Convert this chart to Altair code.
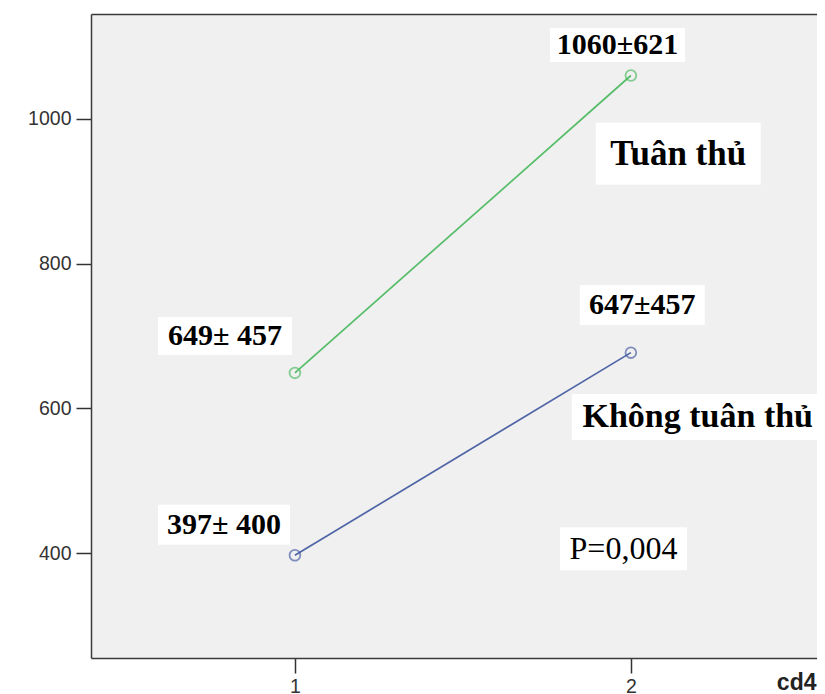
import altair as alt
import pandas as pd

# ---- data ----
groups = ["Tuân thủ", "Tuân thủ", "Không tuân thủ", "Không tuân thủ"]
cd4 = [1, 2, 1, 2]
means = [649, 1060, 397, 677]

ann_text = ["1060±621", "Tuân thủ", "649± 457", "647±457", "Không tuân thủ", "397± 400", "P=0,004"]
ann_x = [1.960, 2.141, 0.792, 2.034, 2.199, 0.789, 1.978]
ann_y = [1102, 952, 700, 743, 588, 439, 406]

y_ticks = [400, 600, 800, 1000]
x_ticks = [1, 2]

# ---- styles (box width, box height, font size, weight) per annotation ----
ann_style = [
    (135, 34, 30, "bold"),
    (165, 62, 35, "bold"),
    (134, 38, 30, "bold"),
    (125, 40, 30, "bold"),
    (252, 46, 34, "bold"),
    (132, 40, 30, "bold"),
    (127, 43, 32, "normal"),
]

df = pd.DataFrame({"group": groups, "cd4": cd4, "mean": means})

xs = alt.Scale(domain=[0.393, 2.554], nice=False, zero=False)
ys = alt.Scale(domain=[255, 1145], nice=False, zero=False)

col = alt.Color("group:N", scale=alt.Scale(domain=["Tuân thủ", "Không tuân thủ"],
                                            range=["#55bd68", "#4f64a6"]), legend=None)

xenc = alt.X("cd4:Q", scale=xs,
             axis=alt.Axis(orient="bottom", values=x_ticks, format="d", title="cd4",
                           titleX=725, titleY=31, titleAlign="right",
                           titleBaseline="alphabetic", titleAngle=0,
                           titleFont="Liberation Sans", titleFontSize=23,
                           titleFontWeight="bold", titleColor="#222",
                           labelPadding=4))
xtop = alt.X("cd4:Q", scale=xs,
             axis=alt.Axis(orient="top", labels=False, ticks=False, title=None, domain=True))
yenc = alt.Y("mean:Q", scale=ys,
             axis=alt.Axis(values=y_ticks, format="d", title=None, labelPadding=5))
xnone = alt.X("cd4:Q", scale=xs, axis=None)

lines = alt.Chart(df).mark_line(strokeWidth=1.7).encode(x=xenc, y=yenc, color=col, detail="group:N")
pts = alt.Chart(df).mark_point(shape="circle", filled=False, size=115, strokeWidth=1.8).encode(
    x=xtop, y=yenc, color=col)

layers = [lines, pts]
for t, ax, ay, (w, h, fs, fw) in zip(ann_text, ann_x, ann_y, ann_style):
    d = pd.DataFrame({"cd4": [ax], "mean": [ay], "label": [t]})
    box = alt.Chart(d).mark_rect(width=w, height=h, color="white").encode(x=xnone, y=yenc)
    txt = alt.Chart(d).mark_text(font="Liberation Serif", fontSize=fs, fontWeight=fw,
                                 color="black", align="center", baseline="middle").encode(
        x=xnone, y=yenc, text="label:N")
    layers += [box, txt]

chart = alt.layer(*layers).resolve_axis(x="independent").properties(
    width=726, height=644,
    autosize=alt.AutoSizeParams(type="none"),
    padding={"left": 83, "top": 6, "right": 0, "bottom": 36},
    background="white",
).configure_view(
    fill="#f0f0f0", stroke=None
).configure_axis(
    domain=True, domainColor="#3a3a3a", domainWidth=1.5,
    grid=False, tickColor="#333", tickSize=15, tickWidth=1.5,
    labelFont="Liberation Sans", labelFontSize=19.5, labelColor="#333"
)

chart.save("out.html", embed_options={"renderer": "svg", "actions": False})
